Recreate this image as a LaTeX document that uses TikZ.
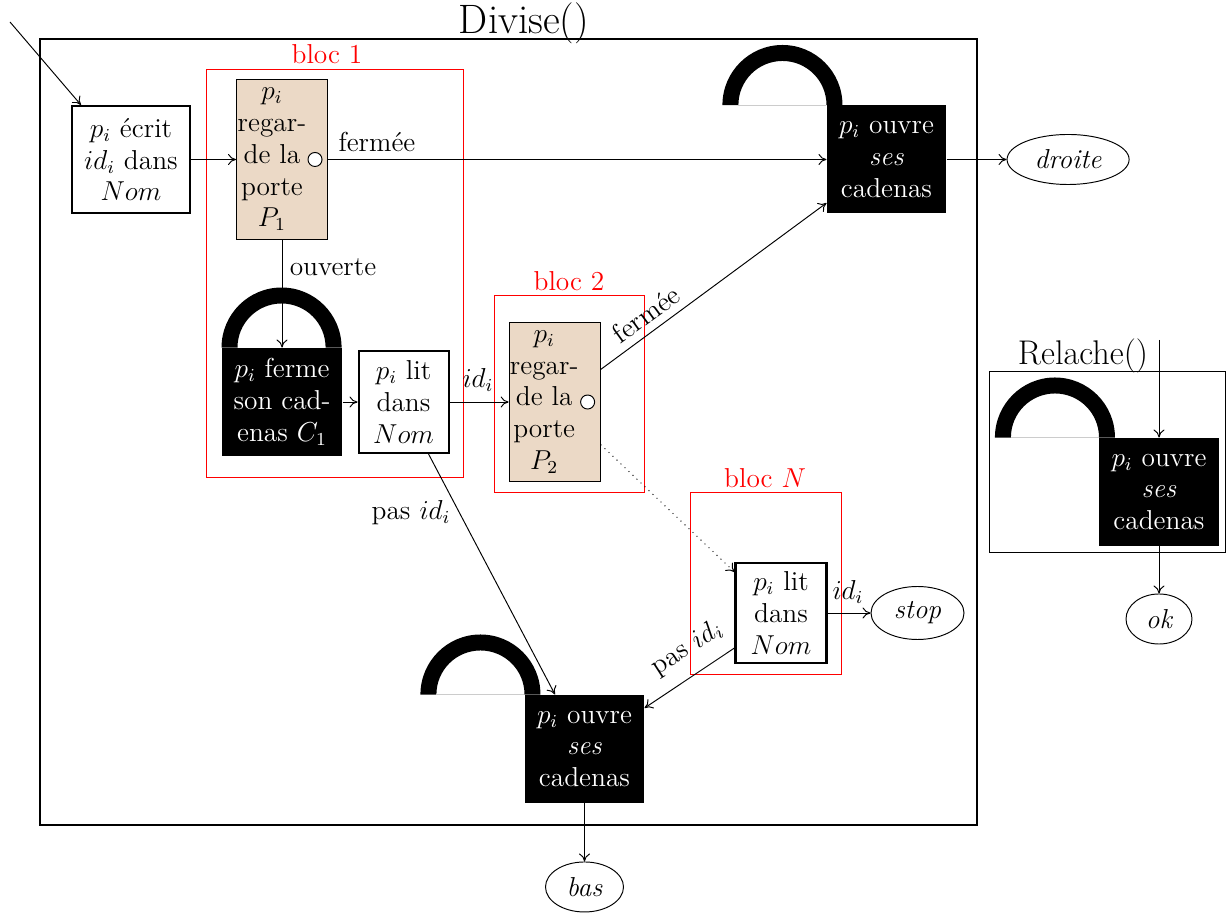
\documentclass[tikz,border=0pt]{standalone}
\usepackage{amsmath, amssymb}
\usetikzlibrary{arrows.meta, positioning, fit, shapes.geometric}
\definecolor{porteclair}{RGB}{235,217,198}

\begin{document}
\begin{tikzpicture}[x=0.0154cm, y=-0.0154cm, line width=0.42pt,
                >={Computer Modern Rightarrow[length=3.5pt, width=4.8pt]},
                font=\fontsize{12}{13.9}\selectfont,
                lecture/.style={draw, line width=0.9pt, minimum width=1.386cm, minimum height=1.571cm,
                                align=center, inner sep=0pt},
                porte/.style={draw, fill=porteclair, minimum width=1.401cm, minimum height=2.449cm, inner sep=0pt},
                rond/.style={draw, circle, fill=white, minimum size=0.216cm, inner sep=0pt},
                cadenas/.style={fill=black, text=white, minimum width=1.833cm, minimum height=1.663cm,
                                align=center, inner sep=0pt},
                sortie/.style={draw, ellipse, minimum height=0.77cm, inner sep=0pt, font=\fontsize{12}{13.9}\selectfont\itshape},
                bloc/.style={draw=red, inner sep=0pt},
                bloctitre/.style={text=red, inner sep=0pt},
                anse/.style={fill=black},
                seuil/.style={draw=black!20},
                cadre/.style={draw, inner sep=0pt},
                titre/.style={inner sep=0pt, font=\fontsize{15}{18}\selectfont}]

                \useasboundingbox (0,0) rectangle (1230,913);

                % Frames
                \node[cadre, line width=0.9pt, fit={(40,39) (977,825)}] (divise) {};
                \node[titre, font=\fontsize{18}{22}\selectfont] (titredivise) at (524,23.5) {Divise()};
                \node[cadre, fit={(989,371) (1225,552)}] (relache) {};
                \node[titre] (titrerelache) at (1083,355.5) {Relache()};

                % Blocs
                \node[bloc, fit={(206,69) (463,477)}] (bloc1) {};
                \node[bloctitre] (titrebloc1) at (327,54) {bloc 1};
                \node[bloc, fit={(494,295) (644,492)}] (bloc2) {};
                \node[bloctitre] (titrebloc2) at (569,281) {bloc 2};
                \node[bloc, fit={(690,492) (841,674)}] (blocN) {};
                \node[bloctitre] (titreblocN) at (765,478) {bloc $N$};

                % First row
                \node[lecture, minimum width=1.817cm, minimum height=1.648cm] (ecrit) at (131,159.5)
                    {$p_i$ écrit\\$id_i$ dans\\$Nom$};
                \node[porte, right=0.693cm of ecrit] (regard1) {};
                \node[inner sep=0pt, align=center] (texte1) at ([xshift=-0.155cm]regard1)
                    {$p_i$\\regar-\\de la\\porte\\$P_1$};
                \node[rond] (rond1) at ([xshift=-0.2cm]regard1.east) {};
                \node[cadenas] (ouvre1) at (886.5,159.5) {$p_i$ ouvre\\\textit{ses}\\cadenas};
                \node[sortie, minimum width=1.879cm, right=0.925cm of ouvre1] (droite) {droite};

                % Second row
                \node[cadenas, minimum width=1.848cm, below=1.663cm of regard1] (ferme1) {$p_i$ ferme\\son cad-\\enas $C_1$};
                \node[lecture, right=0.231cm of ferme1] (lit1) {$p_i$ lit\\dans\\$Nom$};
                \node[porte, right=0.909cm of lit1] (regard2) {};
                \node[inner sep=0pt, align=center] (texte2) at ([xshift=-0.16cm]regard2)
                    {$p_i$\\regar-\\de la\\porte\\$P_2$};
                \node[rond] (rond2) at ([xshift=-0.2cm]regard2.east) {};

                % Last bloc and exits
                \node[lecture, minimum width=1.401cm, minimum height=1.54cm] (lit2) at (781,613) {$p_i$ lit\\dans\\$Nom$};
                \node[sortie, minimum width=1.432cm, minimum height=0.816cm, right=0.662cm of lit2] (stop) {stop};
                \node[cadenas] (ouvre3) at (584.5,749) {$p_i$ ouvre\\\textit{ses}\\cadenas};
                \node[sortie, minimum width=1.201cm, below=0.893cm of ouvre3] (bas) {bas};
                \node[cadenas] (ouvreR) at (1159,492) {$p_i$ ouvre\\\textit{ses}\\cadenas};
                \node[sortie, minimum width=1.016cm, below=0.724cm of ouvreR] (ok) {ok};

                % Shackles
                \foreach \lock in {ouvre1, ouvre3, ouvreR} {
                    \fill[anse] ([xshift=-1.602cm]\lock.north west) arc[start angle=180, end angle=0, radius=0.924cm]
                        -- (\lock.north west) arc[start angle=0, end angle=180, radius=0.678cm] -- cycle;
                    \draw[seuil] ([xshift=-1.355cm]\lock.north west) -- (\lock.north west);
                }
                \fill[anse] (ferme1.north west) arc[start angle=180, end angle=0, radius=0.924cm]
                    -- ([xshift=1.602cm]ferme1.north west) arc[start angle=0, end angle=180, radius=0.678cm] -- cycle;

                % Free ends
                \coordinate (entree) at (10,22);
                \coordinate (entreeR) at (1159,340);

                % Arrows
                \draw[->] (entree) -- ([xshift=0.154cm]ecrit.north west);
                \draw[->] (ecrit) -- (regard1);
                \draw[->] (regard1.east) -- (ouvre1.west);
                \draw[->] (regard1.south) -- (ferme1.north);
                \draw[->] (ferme1) -- (lit1);
                \draw[->] (lit1) -- (regard2);
                \draw[->] (ouvre1) -- (droite);
                \draw[->] ([yshift=0.5cm]regard2.east) -- ([yshift=-0.67cm]ouvre1.west);
                \draw[->, dotted] ([yshift=-0.655cm]regard2.east) -- ([yshift=0.631cm]lit2.west);
                \draw[->] (lit2) -- (stop);
                \draw[->] ([yshift=-0.539cm]lit2.west) -- ([yshift=0.631cm]ouvre3.east);
                \draw[->] ([xshift=0.385cm]lit1.south) -- ([xshift=-0.454cm]ouvre3.north);
                \draw[->] (ouvre3) -- (bas);
                \draw[->] (entreeR) -- (ouvreR.north);
                \draw[->] (ouvreR) -- (ok);

                % Labels
                \node[inner sep=0pt] (fermee1) at (377,142) {fermée};
                \node[inner sep=0pt] (ouverte) at (333,267) {ouverte};
                \node[inner sep=0pt] (idi1) at (478,380) {$id_i$};
                \node[inner sep=0pt, rotate=36] (fermee2) at (646,314) {fermée};
                \node[inner sep=0pt] (idi2) at (848,592) {$id_i$};
                \node[inner sep=0pt, rotate=33] (pasidi1) at (687,648) {pas $id_i$};
                \node[inner sep=0pt] (pasidi2) at (411,513) {pas $id_i$};
            \end{tikzpicture}
\end{document}
